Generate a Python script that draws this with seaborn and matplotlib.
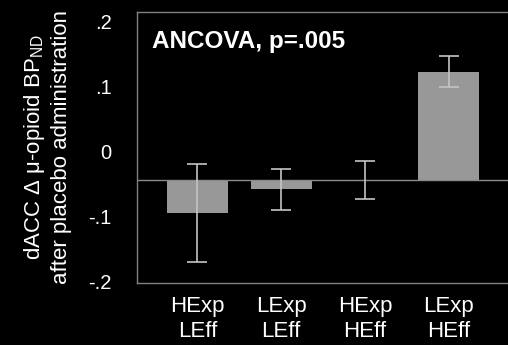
import numpy as np
import pandas as pd
import seaborn as sns
import matplotlib
matplotlib.use("Agg")
import matplotlib.pyplot as plt

# values, in the units of the tick labels
groups = ["HExp\nLEff", "LExp\nLEff", "HExp\nHEff", "LExp\nHEff"]
means = [-0.094, -0.058, -0.044, 0.123]
errors = [0.075, 0.032, 0.029, 0.024]
baseline = -0.043  # where the reference draws its zero line
yticks = [0.2, 0.1, 0.0, -0.1, -0.2]
yticklabels = [".2", ".1", "0", "-.1", "-.2"]

sns.set_style("dark")
plt.rcParams["font.family"] = ["Liberation Sans", "DejaVu Sans"]
plt.rcParams["mathtext.fontset"] = "custom"
plt.rcParams["mathtext.rm"] = "Liberation Sans"

fig = plt.figure(figsize=(5.08, 3.45), dpi=100, facecolor="black")
ax = fig.add_axes([136.7 / 508, 1 - 283 / 345, (520 - 136.7) / 508, (283 - 12) / 345])
ax.set_facecolor("black")

df = pd.DataFrame({"group": groups, "height": np.array(means) - baseline})
sns.barplot(data=df, x="group", y="height", bottom=baseline, color="#989898",
            saturation=1, width=0.73, errorbar=None, linewidth=0, ax=ax)
ax.errorbar(x=np.arange(len(groups)), y=means, yerr=errors, fmt="none",
            ecolor="#c4c4c4", elinewidth=1.2, capsize=7.5, capthick=1.2, zorder=5)
ax.axhline(baseline, color="#8a8a8a", lw=1, zorder=1)

ax.set_ylim(-0.202, 0.215)
ax.set_xlim(-0.726, 3.853)
ax.set_yticks(yticks)
ax.set_yticklabels(yticklabels)
ax.tick_params(axis="y", length=0, pad=18, labelsize=14.5, labelcolor="white")
ax.tick_params(axis="x", length=0, pad=9.5, labelsize=16, labelcolor="white")
for lbl in ax.get_xticklabels():
    lbl.set_linespacing(1.25)
ax.set_xlabel("")
ax.set_ylabel("dACC Δ μ-opioid BP$_{\\mathrm{ND}}$\nafter placebo administration",
              color="white", fontsize=16, labelpad=12, linespacing=1.2)
ax.grid(False)
for side in ["left", "top", "bottom"]:
    ax.spines[side].set_visible(True)
    ax.spines[side].set_color("#808080")
    ax.spines[side].set_linewidth(1)
ax.spines["right"].set_visible(False)

ax.text(0.04, 0.934, "ANCOVA, p=.005", transform=ax.transAxes, va="top", ha="left",
        color="white", fontsize=17.5, fontweight="bold")

fig.savefig("out.png", dpi=100, facecolor="black")
